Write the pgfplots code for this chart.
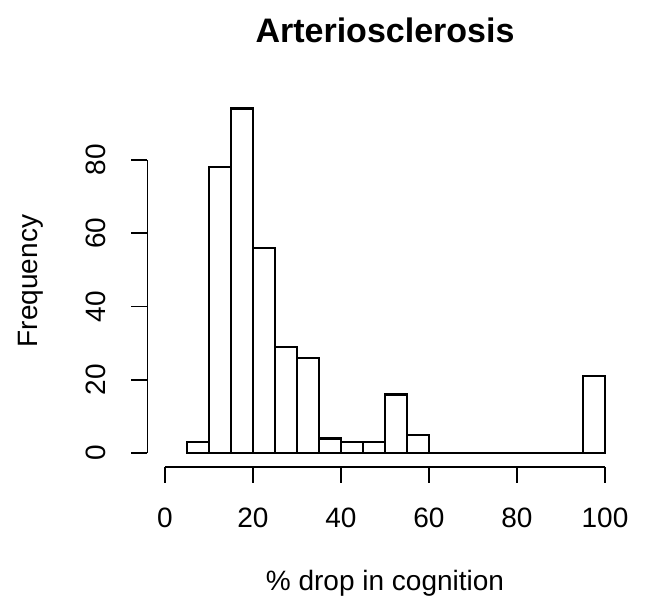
\documentclass[border=0pt]{standalone}
\usepackage{pgfplots}
\pgfplotsset{compat=1.18}
\usepackage{fontspec}
\setmainfont{Liberation Sans}

\begin{document}
\begin{tikzpicture}
\path[use as bounding box] (0pt,0pt) rectangle (649pt,607pt);
\begin{axis}[
  at={(147.4pt,140pt)}, anchor=south west,
  scale only axis, width=475.2pt, height=372.2pt,
  xmin=-4, xmax=104, ymin=-3.76, ymax=97.76,
  axis x line*=bottom, axis y line*=left,
  axis line style={draw=none},
  clip=false,
  xtick={0,20,...,100}, ytick={0,20,...,80},
  tick align=outside, major tick length=16pt,
  tick style={black, line width=1.8pt},
  tick label style={font=\fontsize{28}{34}\selectfont, /pgf/number format/assume math mode=true},
  xticklabel style={anchor=north, inner sep=0pt},
  yticklabel style={rotate=90, anchor=south, inner sep=0pt},
  xticklabel shift=25pt,
  yticklabel shift=25pt,
]
% histogram of the percentage drop, bins of width 5
\addplot[ybar interval, draw=black, fill=white, line width=2.2pt] coordinates {
  (5,3) (10,78) (15,94) (20,56) (25,29) (30,26) (35,4) (40,3) (45,3)
  (50,16) (55,5) (60,0) (65,0) (70,0) (75,0) (80,0) (85,0) (90,0)
  (95,21) (100,21)};
% axis lines spanning only the tick range
\draw[line width=1.8pt] (axis cs:0,-3.76) -- (axis cs:100,-3.76);
\draw[line width=1.8pt] (axis cs:-4,0) -- (axis cs:-4,80);
\end{axis}
\node[font=\bfseries\fontsize{34}{40}\selectfont] at (385pt,577pt) {Arteriosclerosis};
\node[font=\fontsize{28}{34}\selectfont] at (385pt,24pt) {\% drop in cognition};
\node[font=\fontsize{28}{34}\selectfont, rotate=90] at (31pt,326pt) {Frequency};
\end{tikzpicture}
\end{document}
